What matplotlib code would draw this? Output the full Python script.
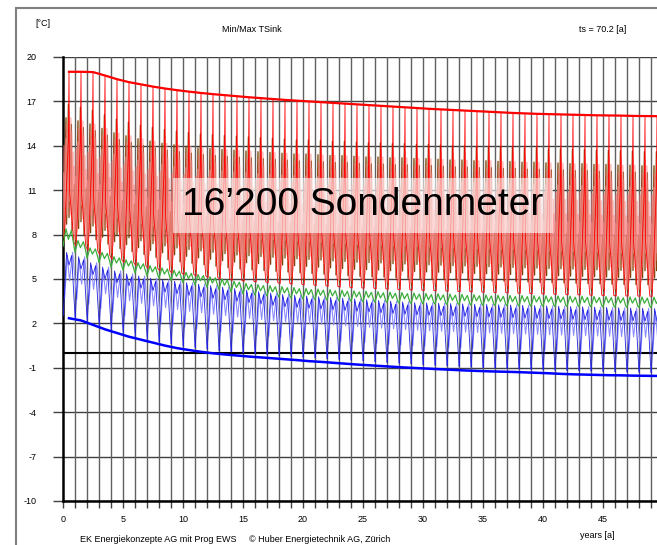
import numpy as np
import matplotlib
matplotlib.use("Agg")
import matplotlib.pyplot as plt
from matplotlib.patches import Rectangle

plt.rcParams['font.family'] = ['Liberation Sans', 'DejaVu Sans']

# ---------------- data ----------------
years = list(range(50))                      # simulation years 0..49
env_x = [y + 0.5 for y in years]             # annual envelope positions

# annual maximum of TSink (thick red)
red_max = [19.0, 19.0, 18.98, 18.75, 18.5, 18.3, 18.15, 18.0, 17.87, 17.76,
           17.66, 17.57, 17.49, 17.42, 17.35, 17.28, 17.22, 17.16, 17.1, 17.05,
           17.0, 16.95, 16.9, 16.85, 16.8, 16.75, 16.7, 16.65, 16.6, 16.55,
           16.5, 16.46, 16.42, 16.38, 16.34, 16.3, 16.26, 16.22, 16.19, 16.16,
           16.14, 16.12, 16.1, 16.08, 16.06, 16.05, 16.04, 16.02, 16.01, 16.0]
# annual minimum of TSink (thick blue)
blue_min = [2.35, 2.2, 1.9, 1.6, 1.35, 1.1, 0.9, 0.7, 0.5, 0.33,
            0.2, 0.08, -0.02, -0.1, -0.17, -0.24, -0.3, -0.36, -0.42, -0.48,
            -0.55, -0.6, -0.66, -0.72, -0.78, -0.83, -0.88, -0.93, -0.98, -1.02,
            -1.06, -1.1, -1.14, -1.18, -1.21, -1.24, -1.26, -1.28, -1.31, -1.34,
            -1.37, -1.41, -1.44, -1.46, -1.48, -1.5, -1.51, -1.53, -1.54, -1.55]

# seasonal swings per year
red_lo = [7.5, 7.2, 6.9, 6.6, 6.3, 6.1, 5.9, 5.7, 5.55, 5.4,
          5.3, 5.2, 5.1, 5.0, 4.9, 4.85, 4.8, 4.75, 4.7, 4.65,
          4.6, 4.55, 4.5, 4.45, 4.4, 4.38, 4.35, 4.3, 4.28, 4.25,
          4.22, 4.2, 4.17, 4.15, 4.12, 4.1, 4.08, 4.05, 4.03, 4.0,
          3.98, 3.96, 3.94, 3.92, 3.9, 3.88, 3.86, 3.85, 3.84, 3.83]
brown_hi = [16.8, 16.6, 16.4, 16.1, 15.8, 15.6, 15.4, 15.25, 15.1, 15.0,
            14.9, 14.8, 14.75, 14.7, 14.65, 14.6, 14.55, 14.5, 14.45, 14.4,
            14.4, 14.35, 14.3, 14.3, 14.25, 14.2, 14.2, 14.15, 14.15, 14.1,
            14.1, 14.05, 14.0, 14.0, 13.95, 13.95, 13.9, 13.9, 13.85, 13.85,
            13.8, 13.8, 13.75, 13.75, 13.7, 13.7, 13.65, 13.65, 13.6, 13.6]
brown_lo = [7.8, 7.5, 7.2, 6.9, 6.6, 6.4, 6.2, 6.0, 5.85, 5.7,
            5.6, 5.5, 5.4, 5.3, 5.2, 5.15, 5.1, 5.05, 5.0, 4.95,
            4.9, 4.85, 4.8, 4.75, 4.7, 4.68, 4.65, 4.6, 4.58, 4.55,
            4.52, 4.5, 4.47, 4.45, 4.42, 4.4, 4.38, 4.35, 4.33, 4.3,
            4.28, 4.26, 4.24, 4.22, 4.2, 4.18, 4.16, 4.15, 4.14, 4.13]
green_hi = [8.4, 7.6, 7.1, 6.8, 6.5, 6.3, 6.1, 5.9, 5.75, 5.6,
            5.45, 5.3, 5.15, 5.0, 4.85, 4.7, 4.62, 4.55, 4.48, 4.42,
            4.36, 4.32, 4.28, 4.24, 4.2, 4.17, 4.14, 4.11, 4.08, 4.05,
            4.02, 4.0, 3.98, 3.96, 3.94, 3.92, 3.9, 3.89, 3.88, 3.87,
            3.86, 3.85, 3.84, 3.83, 3.82, 3.81, 3.8, 3.79, 3.78, 3.77]
green_lo = [7.2, 6.8, 6.4, 6.1, 5.8, 5.6, 5.4, 5.2, 5.05, 4.9,
            4.75, 4.6, 4.45, 4.3, 4.15, 4.0, 3.92, 3.85, 3.78, 3.72,
            3.66, 3.62, 3.58, 3.54, 3.5, 3.47, 3.44, 3.41, 3.38, 3.35,
            3.32, 3.3, 3.28, 3.26, 3.24, 3.22, 3.2, 3.19, 3.18, 3.17,
            3.16, 3.15, 3.14, 3.13, 3.12, 3.11, 3.1, 3.09, 3.08, 3.07]
blue_hi = [6.8, 6.5, 6.1, 5.8, 5.55, 5.35, 5.2, 5.05, 4.95, 4.85,
           4.75, 4.65, 4.55, 4.45, 4.35, 4.25, 4.15, 4.05, 3.95, 3.9,
           3.85, 3.8, 3.75, 3.7, 3.65, 3.6, 3.55, 3.5, 3.45, 3.4,
           3.38, 3.36, 3.34, 3.32, 3.3, 3.28, 3.26, 3.24, 3.22, 3.2,
           3.18, 3.16, 3.14, 3.12, 3.1, 3.08, 3.06, 3.04, 3.02, 3.0]
blue_lo = [2.5, 2.4, 2.1, 1.8, 1.55, 1.3, 1.1, 0.9, 0.75, 0.6,
           0.45, 0.35, 0.25, 0.15, 0.07, 0.0, -0.06, -0.12, -0.18, -0.24,
           -0.3, -0.35, -0.4, -0.45, -0.5, -0.55, -0.6, -0.65, -0.7, -0.75,
           -0.8, -0.84, -0.88, -0.92, -0.96, -1.0, -1.03, -1.06, -1.09, -1.12,
           -1.15, -1.18, -1.2, -1.22, -1.24, -1.26, -1.28, -1.3, -1.32, -1.34]

# within-year shapes (fraction of the way from low to high)
red_t = [0.1, 0.45, 0.5, 0.55, 0.9]
red_f = [0.0, 0.6, 1.0, 0.3, 0.0]
pink_t = [0.0, 0.1, 0.2, 0.3, 0.4, 0.5, 0.6, 0.7, 0.8, 0.9]
pink_f = [0.05, 0.7, 0.15, 0.85, 0.25, 0.95, 0.2, 0.8, 0.1, 0.55]
pink2_t = [0.05, 0.15, 0.25, 0.35, 0.45, 0.55, 0.65, 0.75, 0.85, 0.95]
pink2_f = [0.5, 0.1, 0.75, 0.2, 0.8, 0.3, 0.9, 0.15, 0.65, 0.05]
brown_t = [0.05, 0.25, 0.3, 0.45, 0.5, 0.7, 0.75, 0.95]
brown_f = [0.0, 0.9, 0.1, 1.0, 0.15, 0.85, 0.05, 0.4]
green_t = [0.0, 0.25, 0.45, 0.7, 0.9]
green_f = [0.0, 1.0, 0.4, 0.9, 0.1]
blue_t = [0.02, 0.3, 0.5, 0.72, 1.0]
blue_f = [0.0, 1.0, 0.8, 0.95, 0.0]
lblue_t = [0.15, 0.35, 0.55, 0.8]
lblue_f = [0.3, 0.95, 0.55, 1.0]

y_ticks = [20, 17, 14, 11, 8, 5, 2, -1, -4, -7, -10]
x_labels = [0, 5, 10, 15, 20, 25, 30, 35, 40, 45, 50]


def cycle(hi, lo, ts, fs):
    xs, ys = [], []
    for i in years:
        for t, f in zip(ts, fs):
            xs.append(i + t)
            ys.append(lo[i] + f * (hi[i] - lo[i]))
    return xs, ys


W, H = 657, 545
fig = plt.figure(figsize=(W / 100, H / 100), dpi=100)
ax = fig.add_axes([63 / W, 1 - 501 / H, 600 / W, 444 / H])
ax.set_xlim(0, 50)
ax.set_ylim(-10, 20)

# grid
for y in y_ticks:
    ax.axhline(y, color='#404040', lw=1.0, zorder=2)
for x in years[1:] + [50]:
    ax.axvline(x, color='#606060', lw=1.0, zorder=2)
ax.axhline(0, color='black', lw=1.5, zorder=2)

# seasonal curves
bx, by = cycle(brown_hi, brown_lo, brown_t, brown_f)
ax.plot(bx, by, color='#7a4000', lw=0.9, zorder=3)
px, py = cycle(brown_hi, red_lo, pink_t, pink_f)
ax.plot(px, py, color='#ff7070', lw=1.3, alpha=0.55, zorder=4)
px2, py2 = cycle(brown_hi, red_lo, pink2_t, pink2_f)
ax.plot(px2, py2, color='#ff9090', lw=1.3, alpha=0.55, zorder=4)
rx, ry = cycle(red_max, red_lo, red_t, red_f)
ax.plot(rx, ry, color='#ff0000', lw=0.6, zorder=5)
gx, gy = cycle(green_hi, green_lo, green_t, green_f)
ax.plot(gx, gy, color='#3cae3c', lw=0.9, zorder=5)
lbx, lby = cycle(blue_hi, blue_lo, lblue_t, lblue_f)
ax.plot(lbx, lby, color='#8c8cff', lw=0.8, zorder=5)
blx, bly = cycle(blue_hi, blue_lo, blue_t, blue_f)
ax.plot(blx, bly, color='#2020e0', lw=0.6, zorder=6)

# annual envelopes
ax.plot(env_x, red_max, color='#ff0000', lw=1.6, zorder=7)
ax.plot(env_x, blue_min, color='#0000ff', lw=1.8, zorder=7)

# axes styling
for s in ['top', 'right']:
    ax.spines[s].set_visible(False)
ax.spines['left'].set_linewidth(1.8)
ax.spines['bottom'].set_linewidth(1.8)
ax.set_yticks(y_ticks)
ax.set_yticklabels([str(v) for v in y_ticks], fontsize=6.5)
ax.set_xticks(x_labels)
ax.set_xticklabels([str(v) for v in x_labels], fontsize=6.5)
ax.set_xticks(years, minor=True)
ax.tick_params(axis='y', length=7, width=1, color='#404040', pad=12)
ax.tick_params(axis='x', which='both', length=5, width=1, color='#404040', pad=5)

# big annotation
ax.text(25, 14 - 3 * (206.5 - 147) / 44.4, '16’200 Sondenmeter', fontsize=28,
        ha='center', va='center', color='black', zorder=10,
        bbox=dict(boxstyle='square,pad=0.25', fc='white', ec='none', alpha=0.6))

# figure texts
fig.text(35 / W, 1 - 24 / H, '[°C]', fontsize=6.5, va='center')
fig.text(252 / W, 1 - 30 / H, 'Min/Max TSink', fontsize=6.5, ha='center', va='center')
fig.text(603 / W, 1 - 30 / H, 'ts = 70.2 [a]', fontsize=6.5, ha='center', va='center')
fig.text(597 / W, 1 - 535 / H, 'years [a]', fontsize=6.5, ha='center', va='center')
fig.text(80 / W, 1 - 540 / H,
         'EK Energiekonzepte AG mit Prog EWS     © Huber Energietechnik AG, Zürich',
         fontsize=6.5, va='center')

fig.add_artist(Rectangle((16 / W, -0.05), 1.0, 1 - 8 / H + 0.05,
                         transform=fig.transFigure, fill=False,
                         ec='#808080', lw=1.5))

fig.savefig('out.png', dpi=100)
